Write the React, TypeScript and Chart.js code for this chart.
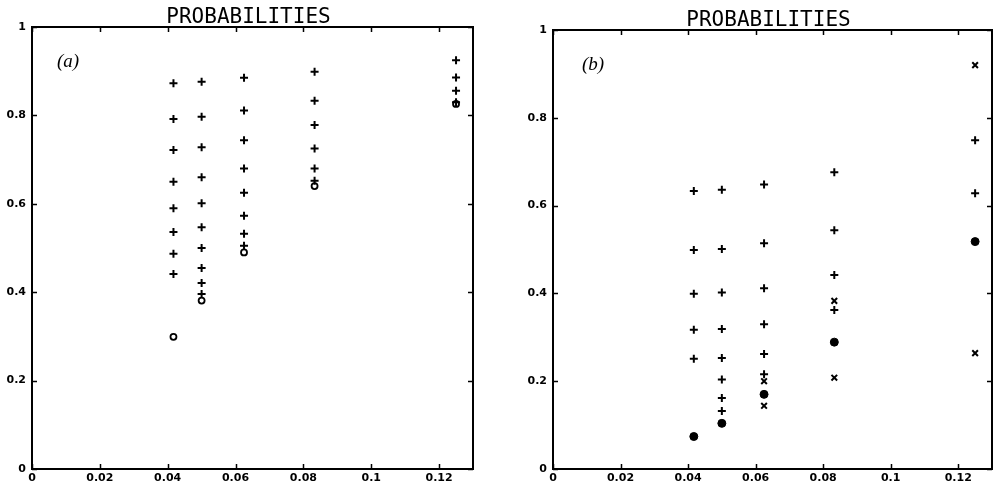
import React, { useEffect, useRef } from "react";
import { Chart, registerables } from "chart.js";

Chart.register(...registerables);

// ---------- data ----------
const xColumns = [0.0417, 0.05, 0.0625, 0.0833, 0.125];
const xTicks = [0, 0.02, 0.04, 0.06, 0.08, 0.1, 0.12];
const yTicks = [0, 0.2, 0.4, 0.6, 0.8, 1];
const panelTitle = "PROBABILITIES";

// Panel (a): "+" marks and open circles, one list per column
const aPlus = [
  [0.873, 0.792, 0.722, 0.65, 0.59, 0.536, 0.487, 0.441],
  [0.876, 0.797, 0.728, 0.66, 0.601, 0.547, 0.5, 0.455, 0.421, 0.396],
  [0.885, 0.811, 0.744, 0.68, 0.625, 0.573, 0.532, 0.505],
  [0.899, 0.833, 0.778, 0.725, 0.68, 0.652],
  [0.925, 0.886, 0.856, 0.83],
];
const aCircle = [[0.299], [0.381], [0.49], [0.64], [0.826]];

// Panel (b): "+" marks, "x" marks and filled dots
const bPlus = [
  [0.633, 0.499, 0.399, 0.317, 0.251],
  [0.636, 0.501, 0.402, 0.319, 0.253, 0.204, 0.162, 0.132],
  [0.648, 0.514, 0.412, 0.33, 0.262, 0.216],
  [0.676, 0.544, 0.442, 0.362],
  [0.749, 0.628],
];
const bCross = [[], [], [0.2, 0.144], [0.383, 0.208], [0.92, 0.264]];
const bDot = [[0.074], [0.104], [0.17], [0.289], [0.518]];

// ---------- helpers ----------
function toPoints(cols: number[][]) {
  return cols.flatMap((ys, i) => ys.map((y) => ({ x: xColumns[i], y })));
}

function fmt(v: number) {
  return String(Math.round(v * 100) / 100);
}

const framePlugin = {
  id: "frame",
  afterDraw(chart: any, _args: any, opts: any) {
    const { ctx, chartArea, scales } = chart;
    const { left, right, top, bottom } = chartArea;
    const xs = scales.x;
    const ys = scales.y;
    ctx.save();
    ctx.strokeStyle = "#000";
    ctx.fillStyle = "#000";
    ctx.lineWidth = 2;
    ctx.strokeRect(left, top, right - left, bottom - top);
    ctx.lineWidth = 1.5;
    const L = 5;
    ctx.beginPath();
    xTicks.forEach((v) => {
      const px = Math.round(xs.getPixelForValue(v)) + 0.5;
      ctx.moveTo(px, bottom);
      ctx.lineTo(px, bottom - L);
      ctx.moveTo(px, top);
      ctx.lineTo(px, top + L);
    });
    yTicks.forEach((v) => {
      const py = Math.round(ys.getPixelForValue(v)) + 0.5;
      ctx.moveTo(left, py);
      ctx.lineTo(left + L, py);
      ctx.moveTo(right, py);
      ctx.lineTo(right - L, py);
    });
    ctx.stroke();

    ctx.font = '21px "DejaVu Sans Mono"';
    ctx.textAlign = "center";
    ctx.textBaseline = "alphabetic";
    ctx.fillText(opts.title, (left + right) / 2 - 4, top - 4);

    ctx.font = 'italic 19px "Liberation Serif"';
    ctx.textAlign = "left";
    ctx.textBaseline = "middle";
    ctx.fillText(opts.label, left + opts.labelDx, top + 35);
    ctx.restore();
  },
};

type PanelProps = {
  datasets: any[];
  label: string;
  labelDx: number;
  width: number;
  height: number;
  left: number;
  yAxisWidth: number;
  padRight: number;
  padTop: number;
};

function Panel(p: PanelProps) {
  const ref = useRef<HTMLCanvasElement | null>(null);
  useEffect(() => {
    if (!ref.current) return;
    const tickFont = { family: '"DejaVu Sans"', size: 11, weight: "bold" as const };
    const chart = new Chart(ref.current, {
      type: "scatter",
      data: { datasets: p.datasets },
      plugins: [framePlugin],
      options: {
        animation: false,
        responsive: false,
        devicePixelRatio: 1,
        layout: { padding: { top: p.padTop, right: p.padRight, left: 0, bottom: 0 } },
        plugins: {
          legend: { display: false },
          tooltip: { enabled: false },
          frame: { title: panelTitle, label: p.label, labelDx: p.labelDx },
        } as any,
        scales: {
          x: {
            type: "linear",
            min: 0,
            max: 0.13,
            grid: { display: false, drawTicks: false },
            border: { display: false },
            afterBuildTicks: (s: any) => {
              s.ticks = xTicks.map((v) => ({ value: v }));
            },
            afterFit: (s: any) => {
              s.height = 20;
              s.paddingRight = 0;
              s.paddingLeft = 0;
            },
            ticks: {
              color: "#000",
              font: tickFont,
              padding: 3,
              maxRotation: 0,
              autoSkip: false,
              callback: (v: any) => fmt(Number(v)),
            },
          },
          y: {
            type: "linear",
            min: 0,
            max: 1,
            grid: { display: false, drawTicks: false },
            border: { display: false },
            afterBuildTicks: (s: any) => {
              s.ticks = yTicks.map((v) => ({ value: v }));
            },
            afterFit: (s: any) => {
              s.width = p.yAxisWidth;
              s.paddingTop = 0;
              s.paddingBottom = 0;
            },
            ticks: {
              color: "#000",
              font: tickFont,
              padding: 6,
              autoSkip: false,
              callback: (v: any) => fmt(Number(v)),
            },
          },
        },
      },
    });
    return () => chart.destroy();
  }, []);
  return (
    <canvas
      ref={ref}
      width={p.width}
      height={p.height}
      style={{ position: "absolute", left: p.left, top: 0, width: p.width, height: p.height }}
    />
  );
}

const plusStyle = {
  pointStyle: "cross",
  pointRadius: 4,
  borderWidth: 2,
  borderColor: "#000",
  backgroundColor: "#000",
  showLine: false,
  clip: false,
};

export default function App() {
  const aSets = [
    { label: "plus", data: toPoints(aPlus), ...plusStyle },
    {
      label: "circle",
      data: toPoints(aCircle),
      pointStyle: "circle",
      pointRadius: 3,
      borderWidth: 1.8,
      borderColor: "#000",
      backgroundColor: "#fff",
      showLine: false,
      clip: false,
    },
  ];
  const bSets = [
    { label: "plus", data: toPoints(bPlus), ...plusStyle },
    {
      label: "cross",
      data: toPoints(bCross),
      pointStyle: "crossRot",
      pointRadius: 4,
      borderWidth: 2,
      borderColor: "#000",
      backgroundColor: "#000",
      showLine: false,
      clip: false,
    },
    {
      label: "dot",
      data: toPoints(bDot),
      pointStyle: "circle",
      pointRadius: 4,
      borderWidth: 1,
      borderColor: "#000",
      backgroundColor: "#000",
      showLine: false,
      clip: false,
    },
  ];
  return (
    <div
      style={{
        position: "absolute",
        left: 0,
        top: 0,
        width: 995,
        height: 489,
        background: "#fff",
        overflow: "hidden",
      }}
    >
      <Panel datasets={aSets} label="(a)" labelDx={25} width={490} height={489} left={0} yAxisWidth={32} padRight={17} padTop={27} />
      <Panel datasets={bSets} label="(b)" labelDx={29} width={503} height={489} left={495} yAxisWidth={58} padRight={6} padTop={30} />
    </div>
  );
}
